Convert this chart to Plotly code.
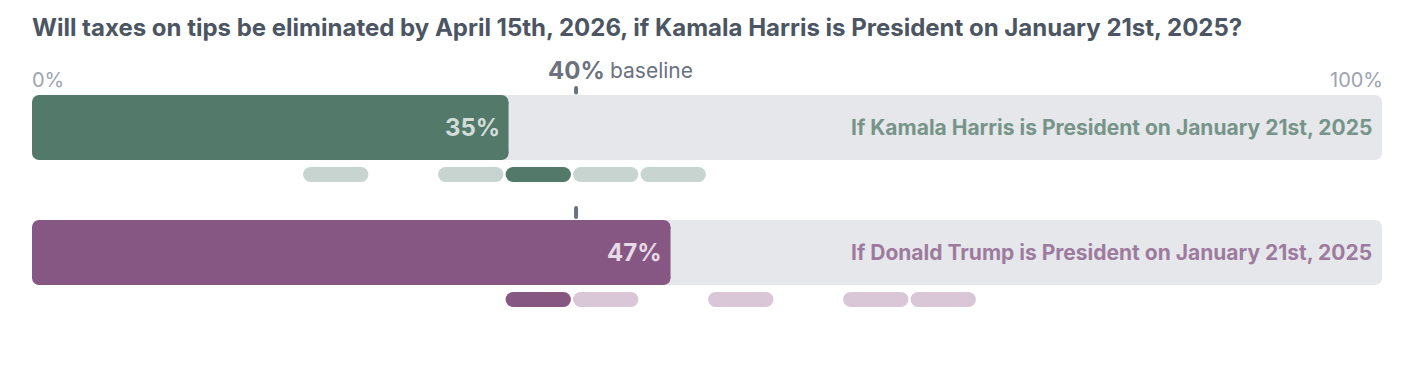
import plotly.graph_objects as go

# ---------------- data ----------------
title = "Will taxes on tips be eliminated by April 15th, 2026, if Kamala Harris is President on January 21st, 2025?"
categories = [
    "If Kamala Harris is President on January 21st, 2025",
    "If Donald Trump is President on January 21st, 2025",
]
values = [35.3, 47.3]
value_labels = ["35%", "47%"]
baseline = 40.3
baseline_label = "40%"
axis_ticks = [0, 100]
axis_tick_labels = ["0%", "100%"]
bin_width = 5
forecast_bins = [
    [20, 30, 35, 40, 45],   # Harris
    [35, 40, 50, 60, 65],   # Trump
]
highlight_bins = [35, 35]

# ---------------- style / layout ----------------
PAGE_OFF = 8                      # browser body margin
W, H = 1420 - PAGE_OFF, 373 - PAGE_OFF
PLOT_W = 1350
PX = PLOT_W / (axis_ticks[1] - axis_ticks[0])   # pixels per percentage point
row_center = [127.5, 252.5]
track_h = 65
pill_off = 47
pill_h = 15
tick_top = [86, 206]
tick_bottom = [94.5, 219]
tick_w = 4
dark = ["#52796A", "#875784"]
pale = ["#C7D4CF", "#D9C7D8"]
inbar_text = ["#D3DDD8", "#E6DAE6"]
row_text = ["#779488", "#9E7B9E"]
track_col = "#E5E7EB"
tick_col = "#6B7280"
FONT = "Inter"

fig = go.Figure()
corner_layers = []   # scatter corner circles, added after all bars


def rounded_bars(ys, los, his, thick, colors, r, left_corners=True):
    """Rounded rectangles: a cross of two bars plus circular corners."""
    rx = r / PX
    inner = thick - 2 * r
    if inner > 0.5:
        fig.add_trace(go.Bar(
            orientation="h", y=ys, base=los, x=[hi - lo for lo, hi in zip(los, his)],
            width=[inner] * len(ys), marker=dict(color=colors, line=dict(width=0)),
            hoverinfo="skip", showlegend=False))
    fig.add_trace(go.Bar(
        orientation="h", y=ys, base=[lo + rx for lo in los],
        x=[hi - lo - 2 * rx for lo, hi in zip(los, his)],
        width=[thick] * len(ys), marker=dict(color=colors, line=dict(width=0)),
        hoverinfo="skip", showlegend=False))
    cx, cy, cc = [], [], []
    dys = [0] if inner <= 0.5 else [-inner / 2, inner / 2]
    for y, lo, hi, c in zip(ys, los, his, colors):
        ends = [lo + rx, hi - rx] if left_corners else [hi - rx]
        for x in ends:
            for dy in dys:
                cx.append(x); cy.append(y + dy); cc.append(c)
    corner_layers.append(go.Scatter(
        x=cx, y=cy, mode="markers",
        marker=dict(size=2 * r, color=cc, line=dict(width=0), opacity=1),
        hoverinfo="skip", showlegend=False))


# tracks (left corners are always covered by the value bars)
rounded_bars(row_center, [axis_ticks[0]] * 2, [axis_ticks[1]] * 2, track_h,
             [track_col] * 2, 7, left_corners=False)
# value bars
rounded_bars(row_center, [axis_ticks[0]] * 2, values, track_h, dark, 7)

# pills (individual forecasts, binned)
pys, plos, phis, pcols = [], [], [], []
for i, bins in enumerate(forecast_bins):
    for b in bins:
        pys.append(row_center[i] + pill_off)
        plos.append(b + 0.08)
        phis.append(b + bin_width - 0.08)
        pcols.append(dark[i] if b == highlight_bins[i] else pale[i])
rounded_bars(pys, plos, phis, pill_h, pcols, pill_h / 2)

for tr in corner_layers:
    fig.add_trace(tr)

# baseline ticks (rounded ends)
for i in range(len(categories)):
    fig.add_trace(go.Scatter(
        x=[baseline, baseline], y=[tick_top[i] + tick_w / 2, tick_bottom[i] - tick_w / 2],
        mode="lines+markers",
        line=dict(color=tick_col, width=tick_w),
        marker=dict(size=tick_w, color=tick_col, line=dict(width=0)),
        hoverinfo="skip", showlegend=False))

ann = []
ann.append(dict(text=f"<b>{title}</b>", xref="paper", x=0, xanchor="left", xshift=-2,
                yref="y", y=27, yanchor="middle", showarrow=False,
                font=dict(family=FONT, size=24, color="#4B5563", weight=700)))
for t, lab, anc, sh in zip(axis_ticks, axis_tick_labels, ["left", "right"], [-2, 3]):
    ann.append(dict(text=lab, x=t, xanchor=anc, xshift=sh, y=80, yanchor="middle", showarrow=False,
                    font=dict(family=FONT, size=20, color="#9CA3AF")))
ann.append(dict(text=f"<b>{baseline_label}</b>", x=baseline, xanchor="center", y=70, yanchor="middle",
                showarrow=False, font=dict(family=FONT, size=24, color=tick_col, weight=800)))
ann.append(dict(text="baseline", x=baseline, xanchor="left", xshift=32, y=70, yanchor="middle",
                showarrow=False, font=dict(family=FONT, size=21, color=tick_col)))
for i, cat in enumerate(categories):
    ann.append(dict(text=f"<b>{value_labels[i]}</b>", x=values[i], xanchor="right", xshift=-7,
                    y=row_center[i], yanchor="middle", showarrow=False,
                    font=dict(family=FONT, size=24, color=inbar_text[i], weight=800)))
    ann.append(dict(text=f"<b>{cat}</b>", x=axis_ticks[1], xanchor="right", xshift=-8,
                    y=row_center[i], yanchor="middle", showarrow=False,
                    font=dict(family=FONT, size=21, color=row_text[i], weight=700)))

fig.update_layout(
    width=W, height=H, margin=dict(l=32 - PAGE_OFF, r=W - (32 - PAGE_OFF) - PLOT_W, t=0, b=0),
    paper_bgcolor="white", plot_bgcolor="white", barmode="overlay",
    xaxis=dict(range=[axis_ticks[0], axis_ticks[1]], visible=False, fixedrange=True),
    yaxis=dict(range=[H + PAGE_OFF, PAGE_OFF], visible=False, fixedrange=True),
    annotations=ann, hovermode=False, showlegend=False,
)

fig.write_html("out.html", config={"displayModeBar": False})
